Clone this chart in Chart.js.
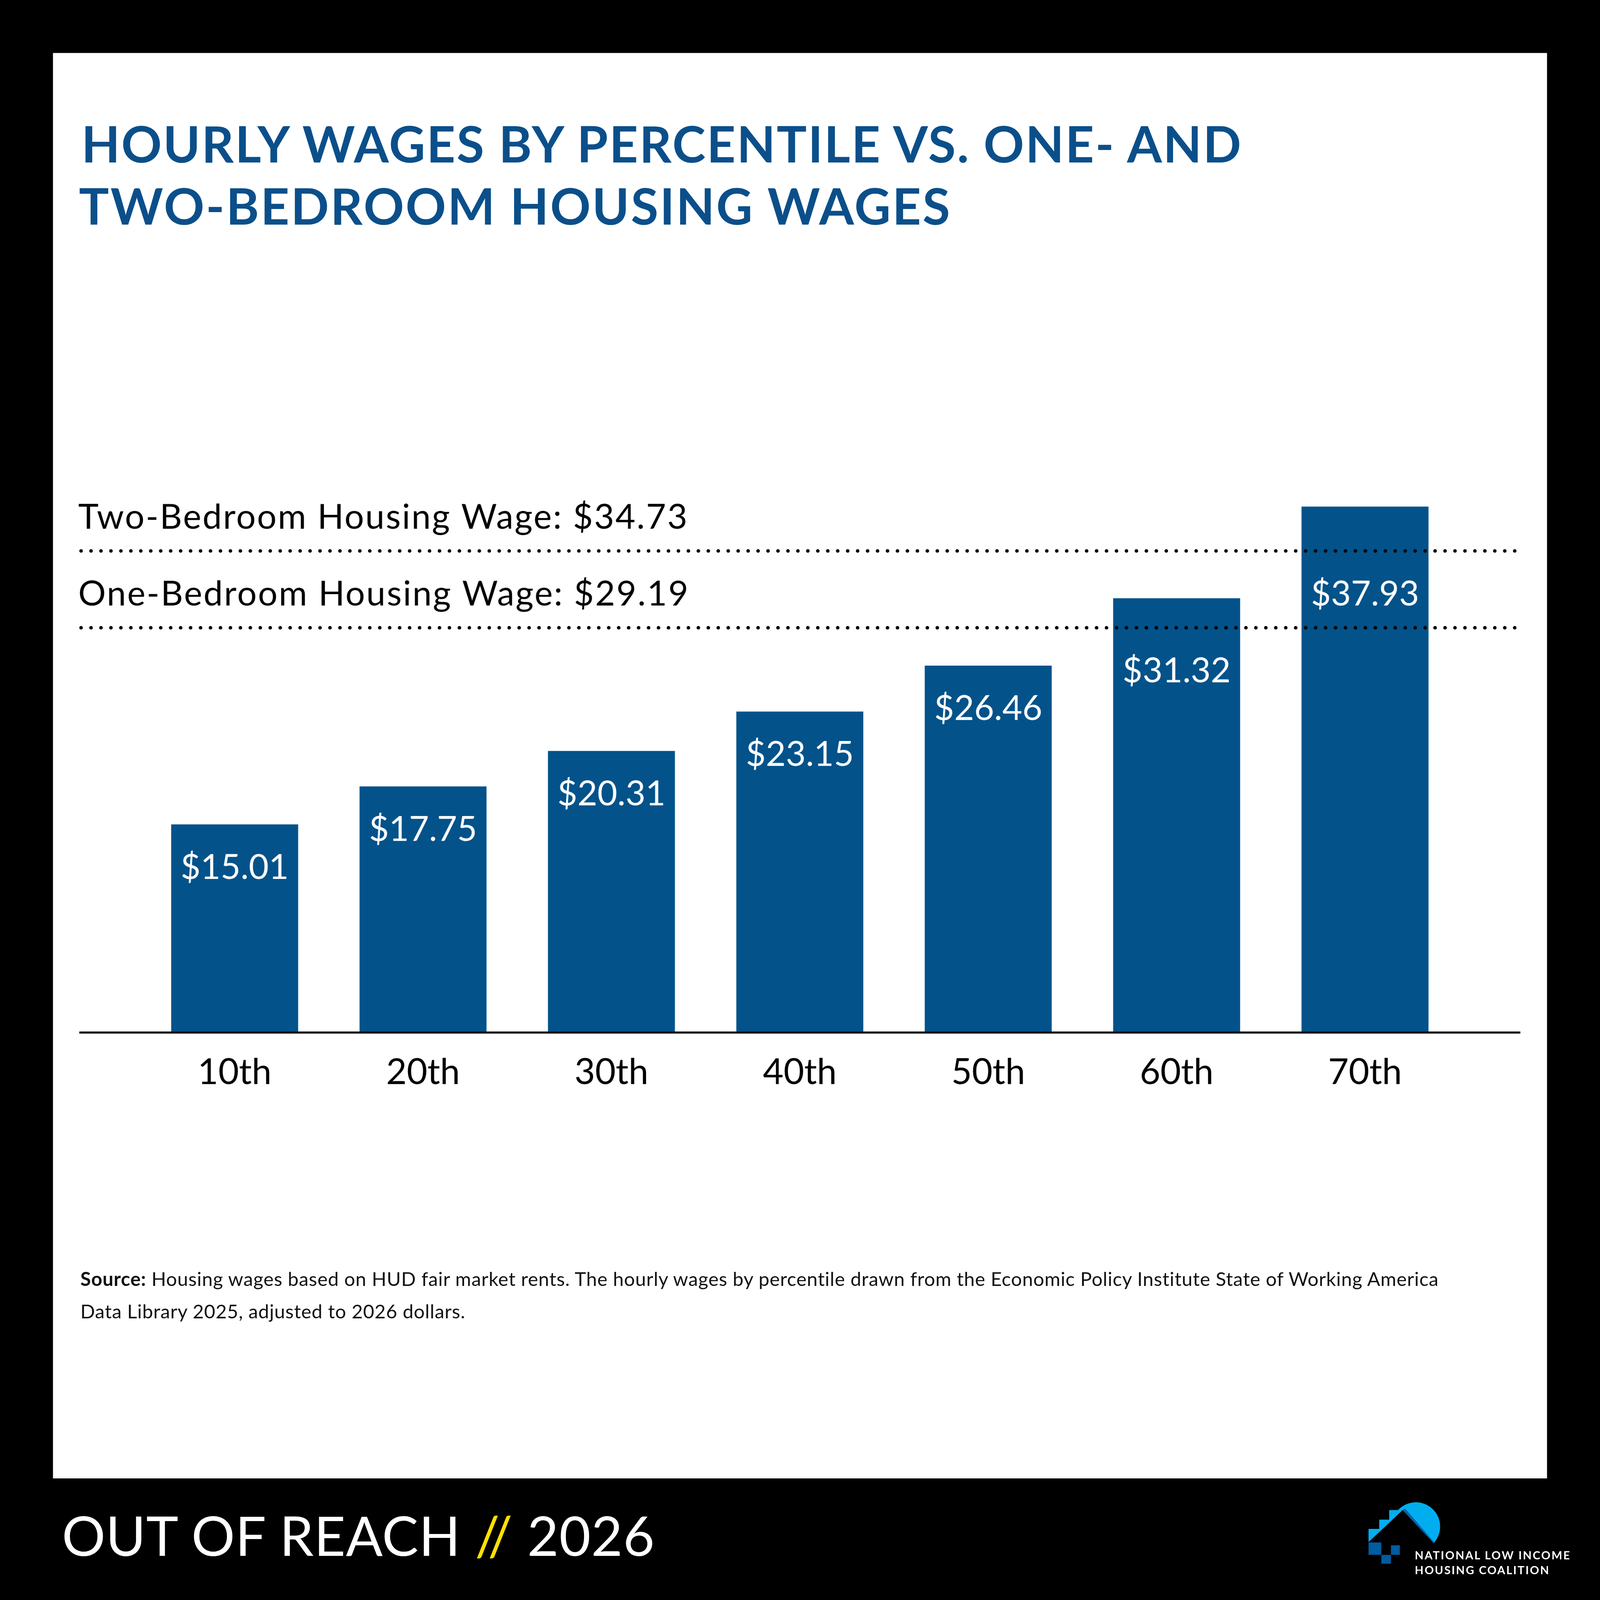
<!DOCTYPE html>
<html><head><meta charset="utf-8">
<script src="https://cdn.jsdelivr.net/npm/chart.js@4.4.1/dist/chart.umd.min.js"></script>
<style>
html,body{margin:0;padding:0;background:#000;overflow:hidden;}
#stage{position:absolute;left:0;top:0;width:4500px;height:4500px;background:#000;transform-origin:0 0;}
#panel{position:absolute;left:149px;top:149px;width:4202px;height:4009px;background:#fff;}
.t{position:absolute;white-space:nowrap;line-height:1;font-family:Lato,'Noto Sans',sans-serif;}
.bl{display:inline-block;width:0;height:0;vertical-align:baseline;}
#chartWrap{position:absolute;left:0;top:0;width:4500px;height:4500px;}
#logo{position:absolute;left:0;top:0;}
</style></head><body>
<div id="stage">
<div id="panel"></div>
<div id="chartWrap"><canvas id="c"></canvas></div>
<div class="t" id="title1" style="font-size:141px;font-weight:700;color:#0b4f8a"><span class="txt">HOURLY WAGES BY PERCENTILE VS. ONE- AND</span><span class="bl"></span></div>
<div class="t" id="title2" style="font-size:141px;font-weight:700;color:#0b4f8a"><span class="txt">TWO-BEDROOM HOUSING WAGES</span><span class="bl"></span></div>
<div class="t" id="src1" style="font-size:54px;color:#111"><span class="txt"><b>Source:</b> Housing wages based on HUD fair market rents. The hourly wages by percentile drawn from the Economic Policy Institute State of Working America</span><span class="bl"></span></div>
<div class="t" id="src2" style="font-size:54px;color:#111"><span class="txt">Data Library 2025, adjusted to 2026 dollars.</span><span class="bl"></span></div>
<div class="t" id="foot" style="font-size:153px;font-weight:400;color:#fff"><span class="txt">OUT OF REACH <span style="color:#ffe100">//</span> 2026</span><span class="bl"></span></div>
<div class="t" id="org1" style="font-size:32px;font-weight:700;color:#fff"><span class="txt">NATIONAL LOW INCOME</span><span class="bl"></span></div>
<div class="t" id="org2" style="font-size:32px;font-weight:700;color:#fff"><span class="txt">HOUSING COALITION</span><span class="bl"></span></div>
<svg id="logo" width="4500" height="4500" viewBox="0 0 4500 4500">
  <path d="M3849,4337 L3849,4300 L3879,4300 L3879,4274 L3907,4274 L3907,4247 L3932,4247 A66 66 0 1 1 4032,4340 L3945,4247 Z" fill="#00aeef"/>
  <path d="M3945,4247 L3952,4243 L4034,4338 L4032,4340 Z" fill="#0b5fa5"/>
  <rect x="3849" y="4338" width="36" height="35" fill="#005b9f"/>
  <rect x="3912" y="4346" width="25" height="27" fill="#005b9f"/>
  <rect x="3885" y="4373" width="27" height="25" fill="#005b9f"/>
</svg>
</div>
<script>
// ---- data ----
const categories = ['10th', '20th', '30th', '40th', '50th', '60th', '70th'];
const wages = [15.01, 17.75, 20.31, 23.15, 26.46, 31.32, 37.93];
const housingWageLabels = ['Two-Bedroom Housing Wage', 'One-Bedroom Housing Wage'];
const housingWages = [34.73, 29.19];
const yMin = 0;
const yMax = 40;

// ---- fit the 4500-unit stage into the window ----
const stage = document.getElementById('stage');
function fitStage() {
  const s = Math.min(window.innerWidth, window.innerHeight) / 4500;
  stage.style.transform = 'scale(' + s + ')';
}
fitStage();

// ---- text placement helpers (untransformed layout units) ----
function place(id, left, baseline, width, ls) {
  const el = document.getElementById(id);
  el.style.left = left + 'px';
  el.style.top = '0px';
  const txt = el.querySelector('.txt');
  let used = ls;
  if (width) {
    txt.style.letterSpacing = '0px';
    const w0 = txt.offsetWidth;
    const n = txt.textContent.length;
    used = (width - w0) / (n - 1);
  }
  if (used !== undefined) txt.style.letterSpacing = used + 'px';
  const b = el.querySelector('.bl').offsetTop;
  el.style.top = (baseline - b) + 'px';
  return used;
}
function layoutText() {
  place('title1', 229, 457, 3262);
  place('title2', 222, 632, 2450);
  const sls = place('src1', 226, 3617, 3821);
  place('src2', 226, 3708, undefined, sls);
  place('foot', 174, 4376, 1667);
  place('org1', 3979, 4386, 436);
  place('org2', 3979, 4427, 377);
}

// ---- chart ----
const annot = {
  id: 'annot',
  afterDatasetsDraw(chart) {
    const {ctx, chartArea: a, scales: {x, y}} = chart;
    const ext = 172;
    const x0 = a.left - ext, x1 = a.right + ext;
    ctx.save();
    const linePx = housingWages.map(v => y.getPixelForValue(v));
    housingWages.forEach((v, i) => {
      const py = linePx[i];
      ctx.setLineDash([0.001, 28]);
      ctx.lineCap = 'round';
      ctx.lineWidth = 10;
      ctx.strokeStyle = '#000';
      ctx.beginPath(); ctx.moveTo(x0 + 5, py); ctx.lineTo(x1 - 2, py); ctx.stroke();
      ctx.setLineDash([]);
      ctx.font = '400 97px Lato';
      ctx.letterSpacing = '3.5px';
      ctx.fillStyle = '#000';
      ctx.textAlign = 'left';
      ctx.textBaseline = 'alphabetic';
      ctx.fillText(housingWageLabels[i] + ': $' + v.toFixed(2), x0 - 3, py - 63);
      ctx.letterSpacing = '0px';
    });
    const by = y.getPixelForValue(0);
    ctx.lineWidth = 6; ctx.strokeStyle = '#111'; ctx.lineCap = 'butt';
    ctx.beginPath(); ctx.moveTo(x0, by); ctx.lineTo(x1, by); ctx.stroke();
    const meta = chart.getDatasetMeta(0);
    ctx.font = '400 97px Lato';
    ctx.fillStyle = '#fff';
    ctx.textAlign = 'center';
    ctx.textBaseline = 'alphabetic';
    meta.data.forEach((bar, i) => {
      let c = bar.y + 118;
      linePx.forEach(ly => { if (Math.abs(c - ly) < 70) c = ly + 118; });
      ctx.fillText('$' + wages[i].toFixed(2), bar.x, c + 35);
    });
    ctx.restore();
  }
};

Chart.defaults.font.family = 'Lato';
new Chart(document.getElementById('c'), {
  type: 'bar',
  data: {
    labels: categories,
    datasets: [{
      data: wages,
      backgroundColor: '#03528a',
      borderWidth: 0,
      barPercentage: 0.674,
      categoryPercentage: 1
    }]
  },
  options: {
    responsive: true,
    maintainAspectRatio: false,
    animation: false,
    layout: {padding: {left: 395, right: 396, top: 1344, bottom: 1396}},
    plugins: {legend: {display: false}, tooltip: {enabled: false}},
    scales: {
      x: {
        grid: {display: false, drawTicks: false},
        border: {display: false},
        ticks: {color: '#000', font: {size: 100, family: 'Lato'}, padding: 53},
        afterFit: s => { s.height = 200; }
      },
      y: {display: false, min: yMin, max: yMax}
    }
  },
  plugins: [annot]
});

layoutText();
if (document.fonts && document.fonts.ready) document.fonts.ready.then(layoutText);
</script>
</body></html>
